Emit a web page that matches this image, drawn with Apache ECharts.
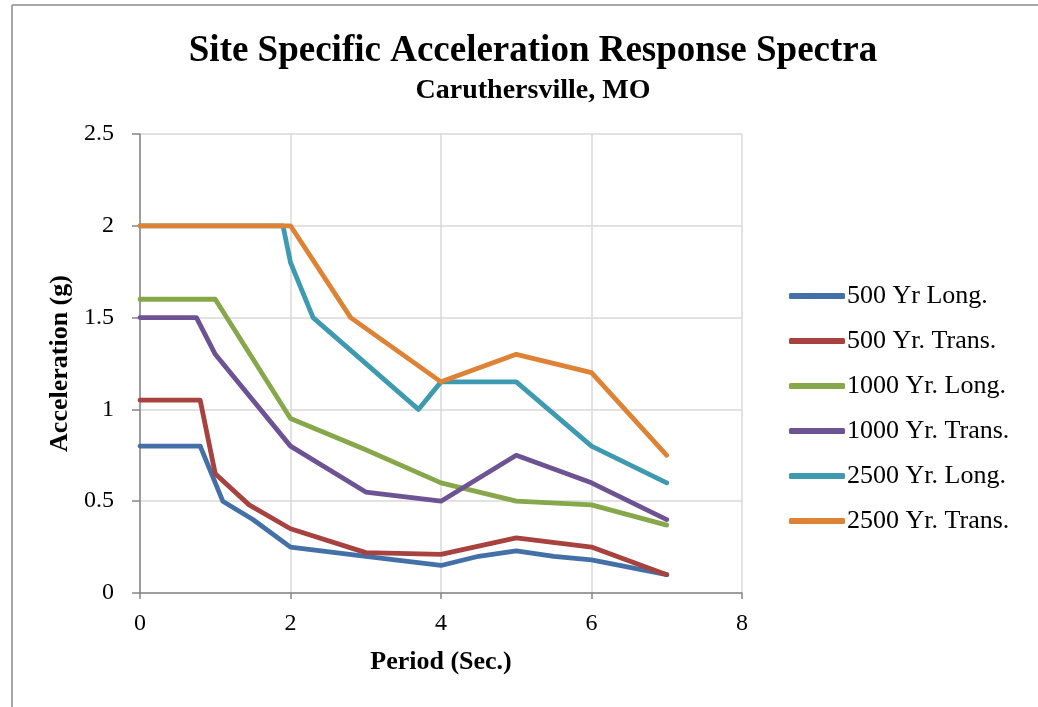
<!DOCTYPE html>
<html>
<head>
<meta charset="utf-8">
<script src="https://cdn.jsdelivr.net/npm/echarts@6/dist/echarts.min.js"></script>
<style>
  html, body { margin: 0; padding: 0; background: #ffffff; }
  #chart { width: 1038px; height: 707px; }
</style>
</head>
<body>
<div id="chart"></div>
<script>
// Response spectra: [period (s), spectral acceleration (g)]
const seriesNames = ['500 Yr Long.', '500 Yr. Trans.', '1000 Yr. Long.', '1000 Yr. Trans.', '2500 Yr. Long.', '2500 Yr. Trans.'];
const long500 = [[0, 0.8], [0.8, 0.8], [1.1, 0.5], [1.5, 0.4], [2, 0.25], [3, 0.2], [4, 0.15], [4.5, 0.2], [5, 0.23], [5.5, 0.2], [6, 0.18], [7, 0.1]];
const trans500 = [[0, 1.05], [0.8, 1.05], [1.0, 0.65], [1.45, 0.48], [2, 0.35], [3, 0.22], [4, 0.21], [5, 0.3], [6, 0.25], [7, 0.1]];
const long1000 = [[0, 1.6], [1.0, 1.6], [2, 0.95], [3, 0.78], [4, 0.6], [5, 0.5], [6, 0.48], [7, 0.37]];
const trans1000 = [[0, 1.5], [0.75, 1.5], [1.0, 1.3], [2, 0.8], [3, 0.55], [4, 0.5], [5, 0.75], [6, 0.6], [7, 0.4]];
const long2500 = [[0, 2.0], [1.9, 2.0], [2, 1.8], [2.3, 1.5], [3.7, 1.0], [4, 1.15], [5, 1.15], [6, 0.8], [7, 0.6]];
const trans2500 = [[0, 2.0], [2, 2.0], [2.8, 1.5], [4, 1.15], [5, 1.3], [6, 1.2], [7, 0.75]];
const seriesData = [long500, trans500, long1000, trans1000, long2500, trans2500];
const seriesColors = ['#4470a8', '#a8423f', '#86a84a', '#6d5394', '#3e9ab0', '#de8235'];

const serif = '"Liberation Serif", "Times New Roman", serif';
const chart = echarts.init(document.getElementById('chart'));

chart.setOption({
  animation: false,
  backgroundColor: '#ffffff',
  color: seriesColors,
  title: [
    {
      text: 'Site Specific Acceleration Response Spectra',
      left: 528, top: 28, textAlign: 'center',
      textStyle: { fontFamily: serif, fontWeight: 'bold', fontSize: 37, color: '#000' }
    },
    {
      text: 'Caruthersville, MO',
      left: 528, top: 72, textAlign: 'center',
      textStyle: { fontFamily: serif, fontWeight: 'bold', fontSize: 28, color: '#000' }
    }
  ],
  graphic: [
    { type: 'line', shape: { x1: 12, y1: 5, x2: 12, y2: 707 }, style: { stroke: '#8a8a8a', lineWidth: 1.5 } },
    { type: 'line', shape: { x1: 12, y1: 5, x2: 1038, y2: 5 }, style: { stroke: '#8a8a8a', lineWidth: 1.5 } }
  ],
  legend: {
    orient: 'vertical',
    left: 789, top: 283, padding: 0,
    itemWidth: 56, itemHeight: 6, itemGap: 19,
    icon: 'roundRect',
    data: seriesNames,
    textStyle: { fontFamily: serif, fontSize: 26, lineHeight: 26, color: '#000', padding: [0, 0, 0, -3] }
  },
  grid: { left: 140, top: 134, right: 296, bottom: 114 },
  xAxis: {
    type: 'value', min: 0, max: 8, interval: 2,
    name: 'Period (Sec.)', nameLocation: 'middle', nameGap: 56,
    nameTextStyle: { fontFamily: serif, fontWeight: 'bold', fontSize: 26, color: '#000' },
    axisLine: { lineStyle: { color: '#868686', width: 1.5 } },
    axisTick: { show: true, length: 6, lineStyle: { color: '#868686', width: 1.5 } },
    axisLabel: { fontFamily: serif, fontSize: 24, color: '#000', margin: 19 },
    splitLine: { show: true, lineStyle: { color: '#d9d9d9', width: 1.5 } }
  },
  yAxis: {
    type: 'value', min: 0, max: 2.5, interval: 0.5,
    name: 'Acceleration (g)', nameLocation: 'middle', nameGap: 66,
    nameTextStyle: { fontFamily: serif, fontWeight: 'bold', fontSize: 26, color: '#000' },
    axisLine: { show: true, lineStyle: { color: '#868686', width: 1.5 } },
    axisTick: { show: true, length: 8, lineStyle: { color: '#868686', width: 1.5 } },
    axisLabel: { fontFamily: serif, fontSize: 24, color: '#000', margin: 26 },
    splitLine: { show: true, lineStyle: { color: '#d9d9d9', width: 1.5 } }
  },
  series: seriesNames.map((name, i) => ({
    name: name,
    type: 'line',
    data: seriesData[i],
    showSymbol: false,
    symbol: 'none',
    lineStyle: { width: 4.8, color: seriesColors[i], join: 'round', cap: 'round' },
    itemStyle: { color: seriesColors[i] },
    z: 2 + i
  }))
});
</script>
</body>
</html>
